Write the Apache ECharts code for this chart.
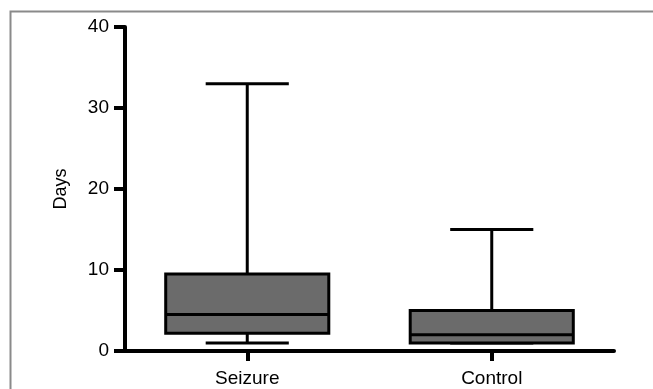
<!DOCTYPE html>
<html>
<head>
<meta charset="utf-8">
<script src="https://cdn.jsdelivr.net/npm/echarts@6/dist/echarts.min.js"></script>
<style>html,body{margin:0;padding:0;background:#fff;}#c{width:653px;height:389px;}</style>
</head>
<body>
<div id="c"></div>
<script>
const categories = ['Seizure', 'Control'];
const lowerWhisker = [1, 1];
const q1 = [2.2, 1];
const median = [4.5, 2];
const q3 = [9.5, 5];
const upperWhisker = [33, 15];
const yTicks = [0, 10, 20, 30, 40];

const chart = echarts.init(document.getElementById('c'));
const data = categories.map((c, i) => [i, lowerWhisker[i], q1[i], median[i], q3[i], upperWhisker[i]]);

chart.setOption({
  animation: false,
  graphic: [{
    type: 'rect', silent: true, z: -1,
    shape: { x: 10.5, y: 11.5, width: 700, height: 500 },
    style: { fill: 'none', stroke: '#8a8a8a', lineWidth: 2 }
  }],
  grid: { left: 125, right: 39, top: 27, bottom: 38 },
  xAxis: {
    type: 'category', data: categories,
    axisLine: { lineStyle: { color: '#000', width: 4 } },
    axisTick: { show: true, alignWithLabel: true, interval: 0, length: 10, lineStyle: { color: '#000', width: 4 } },
    axisLabel: { color: '#000', fontSize: 19, fontFamily: 'Liberation Sans', margin: 18, interval: 0 }
  },
  yAxis: {
    type: 'value', min: yTicks[0], max: yTicks[yTicks.length - 1], interval: 10,
    name: 'Days', nameLocation: 'middle', nameGap: 55,
    nameTextStyle: { color: '#000', fontSize: 18, fontFamily: 'Liberation Sans' },
    splitLine: { show: false },
    axisLine: { show: true, lineStyle: { color: '#000', width: 4 } },
    axisTick: { show: true, length: 11, lineStyle: { color: '#000', width: 4 } },
    axisLabel: { color: '#000', fontSize: 19, fontFamily: 'Liberation Sans', margin: 16 }
  },
  series: [{
    type: 'custom',
    data: data,
    encode: { x: 0, y: [1, 2, 3, 4, 5] },
    renderItem: function (params, api) {
      const i = api.value(0);
      const bandW = api.size([1, 0])[0];
      const boxW = bandW * 0.667;
      const capW = bandW * 0.34;
      const pLo = api.coord([i, api.value(1)]);
      const pQ1 = api.coord([i, api.value(2)]);
      const pMed = api.coord([i, api.value(3)]);
      const pQ3 = api.coord([i, api.value(4)]);
      const pHi = api.coord([i, api.value(5)]);
      const x = pQ1[0];
      const ls = { stroke: '#000', lineWidth: 3, fill: null };
      return {
        type: 'group',
        children: [
          { type: 'line', shape: { x1: x, y1: pHi[1], x2: x, y2: pQ3[1] }, style: ls },
          { type: 'line', shape: { x1: x, y1: pQ1[1], x2: x, y2: pLo[1] }, style: ls },
          { type: 'line', shape: { x1: x - capW / 2, y1: pHi[1], x2: x + capW / 2, y2: pHi[1] }, style: ls },
          { type: 'line', shape: { x1: x - capW / 2, y1: pLo[1], x2: x + capW / 2, y2: pLo[1] }, style: ls },
          { type: 'rect', shape: { x: x - boxW / 2, y: pQ3[1], width: boxW, height: pQ1[1] - pQ3[1] },
            style: { fill: '#6b6b6b', stroke: '#000', lineWidth: 3 } },
          { type: 'line', shape: { x1: x - boxW / 2, y1: pMed[1], x2: x + boxW / 2, y2: pMed[1] }, style: ls }
        ]
      };
    }
  }]
});
</script>
</body>
</html>
